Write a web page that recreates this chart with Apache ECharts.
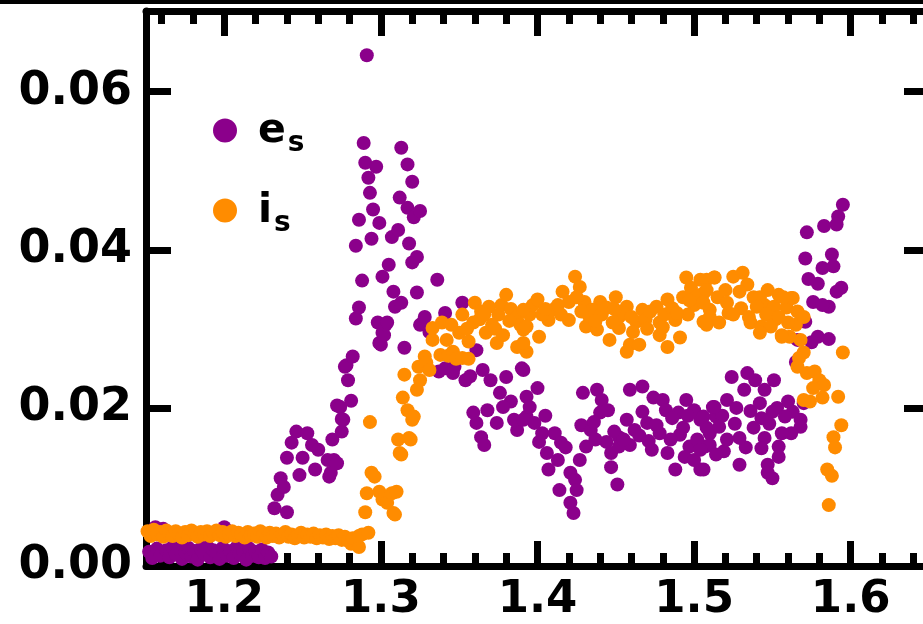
<!DOCTYPE html>
<html>
<head>
    <meta charset="utf-8">
    <title>ECharts</title>
    <script src="https://cdn.jsdelivr.net/npm/echarts@6/dist/echarts.min.js"></script>
</head>
<body style="margin:0;background:#fff;">
<div id="main" style="width: 923px;height:624px;"></div>
<script type="text/javascript">
    // tick positions
    var xMajor = [1.2, 1.3, 1.4, 1.5, 1.6];
    var xMinor = [1.16, 1.18, 1.22, 1.24, 1.26, 1.28, 1.32, 1.34, 1.36, 1.38, 1.42, 1.44, 1.46, 1.48,
                  1.52, 1.54, 1.56, 1.58, 1.62, 1.64];
    var yMajor = [0, 0.02, 0.04, 0.06];

    // e_s (purple)
    var esData = [
        [1.152,0.0018],[1.154,0.0010],[1.156,0.0049],[1.157,0.0022],[1.159,0.0013],[1.161,0.0047],[1.163,0.0020],
        [1.165,0.0011],[1.167,0.0024],[1.169,0.0015],[1.171,0.0021],[1.173,0.0009],[1.175,0.0017],[1.177,0.0023],
        [1.179,0.0012],[1.181,0.0019],[1.183,0.0008],[1.185,0.0022],[1.187,0.0015],[1.189,0.0025],[1.191,0.0011],
        [1.193,0.0020],[1.195,0.0016],[1.197,0.0009],[1.199,0.0023],[1.200,0.0049],[1.202,0.0013],[1.204,0.0019],
        [1.206,0.0010],[1.208,0.0024],[1.210,0.0015],[1.212,0.0020],[1.214,0.0008],[1.216,0.0022],[1.218,0.0013],
        [1.220,0.0018],[1.222,0.0011],[1.224,0.0021],[1.226,0.0010],[1.228,0.0017],[1.230,0.0012],
        [1.232,0.0073],[1.234,0.0090],[1.236,0.0111],[1.238,0.0100],[1.240,0.0068],[1.240,0.0137],[1.243,0.0156],
        [1.246,0.0170],[1.248,0.0115],[1.250,0.0137],[1.253,0.0168],[1.256,0.0153],[1.258,0.0122],[1.260,0.0147],
        [1.266,0.0134],[1.267,0.0113],[1.268,0.0118],[1.269,0.0160],[1.270,0.0134],[1.272,0.0130],[1.272,0.0203],
        [1.274,0.0201],[1.275,0.0186],[1.275,0.0170],[1.276,0.0185],[1.277,0.0252],[1.278,0.0254],[1.279,0.0235],
        [1.281,0.0209],[1.282,0.0265],[1.284,0.0313],[1.286,0.0327],[1.288,0.0361],[1.284,0.0405],[1.286,0.0438],
        [1.289,0.0535],[1.290,0.0510],[1.291,0.0646],[1.292,0.0491],[1.293,0.0472],[1.294,0.0414],[1.295,0.0451],
        [1.297,0.0505],[1.298,0.0308],[1.299,0.0434],[1.299,0.0282],[1.300,0.0280],[1.301,0.0366],[1.301,0.0295],
        [1.302,0.0292],[1.303,0.0305],[1.304,0.0308],[1.305,0.0381],[1.307,0.0416],[1.308,0.0347],[1.309,0.0328],
        [1.311,0.0425],[1.312,0.0466],[1.313,0.0529],[1.313,0.0333],[1.315,0.0276],[1.317,0.0508],[1.317,0.0453],
        [1.318,0.0408],[1.320,0.0486],[1.320,0.0384],[1.321,0.0441],[1.323,0.0391],[1.323,0.0346],[1.325,0.0449],
        [1.325,0.0305],[1.327,0.0308],[1.328,0.0315],[1.331,0.0296],[1.336,0.0362],[1.341,0.0320],[1.352,0.0333],
        [1.361,0.0273],[1.337,0.0246],[1.346,0.0244],[1.354,0.0235],[1.365,0.0248],[1.370,0.0235],[1.380,0.0239],
        [1.390,0.0250],[1.376,0.0219],[1.383,0.0208],[1.359,0.0194],[1.368,0.0197],[1.378,0.0201],[1.361,0.0181],
        [1.374,0.0181],[1.387,0.0172],[1.393,0.0189],[1.364,0.0163],[1.366,0.0153],[1.385,0.0185],
        [1.341,0.0250],[1.347,0.0252],[1.357,0.0240],
        [1.391,0.0248],[1.400,0.0225],[1.393,0.0214],[1.429,0.0219],[1.438,0.0223],[1.441,0.0210],[1.459,0.0223],
        [1.467,0.0227],[1.474,0.0213],[1.480,0.0210],[1.495,0.0210],[1.512,0.0201],[1.395,0.0201],[1.440,0.0194],
        [1.445,0.0197],[1.467,0.0195],[1.482,0.0197],[1.490,0.0194],[1.500,0.0197],[1.391,0.0185],[1.398,0.0181],
        [1.428,0.0178],[1.457,0.0185],[1.470,0.0181],[1.486,0.0187],[1.504,0.0185],[1.514,0.0189],[1.403,0.0168],
        [1.411,0.0168],[1.434,0.0172],[1.452,0.0163],[1.462,0.0172],[1.478,0.0168],[1.491,0.0166],[1.510,0.0168],
        [1.401,0.0157],[1.415,0.0156],[1.431,0.0151],[1.444,0.0157],[1.459,0.0153],[1.473,0.0147],[1.483,0.0143],
        [1.497,0.0151],[1.507,0.0151],[1.406,0.0143],[1.413,0.0134],[1.427,0.0134],[1.447,0.0143],[1.452,0.0151],
        [1.494,0.0138],[1.500,0.0134],[1.447,0.0125],[1.407,0.0122],[1.421,0.0118],[1.488,0.0122],[1.504,0.0122],
        [1.424,0.0109],[1.414,0.0096],[1.425,0.0096],[1.451,0.0103],[1.421,0.0080],[1.423,0.0067],
        [1.405,0.0190],[1.418,0.0150],[1.436,0.0182],[1.437,0.0160],[1.449,0.0170],[1.455,0.0160],[1.465,0.0165],
        [1.471,0.0158],[1.476,0.0178],[1.485,0.0160],[1.493,0.0175],[1.496,0.0190],[1.502,0.0160],[1.508,0.0175],
        [1.518,0.0190],[1.519,0.0145],[1.526,0.0180],[1.533,0.0150],[1.536,0.0196],[1.548,0.0180],[1.553,0.0200],
        [1.563,0.0195],
        [1.524,0.0239],[1.534,0.0244],[1.539,0.0235],[1.551,0.0235],[1.532,0.0223],[1.545,0.0223],[1.542,0.0206],
        [1.560,0.0208],[1.570,0.0206],[1.521,0.0210],[1.513,0.0201],[1.527,0.0200],[1.550,0.0195],[1.543,0.0187],
        [1.558,0.0189],[1.568,0.0185],[1.506,0.0189],[1.516,0.0176],[1.538,0.0175],[1.568,0.0176],[1.562,0.0168],
        [1.556,0.0168],[1.529,0.0162],[1.545,0.0162],[1.521,0.0160],[1.510,0.0153],[1.554,0.0151],[1.543,0.0149],
        [1.504,0.0147],[1.514,0.0141],[1.554,0.0138],[1.529,0.0128],[1.547,0.0128],[1.506,0.0122],[1.547,0.0118],
        [1.550,0.0111],
        [1.595,0.0457],[1.592,0.0442],[1.591,0.0432],[1.583,0.0430],[1.572,0.0422],[1.571,0.0389],[1.588,0.0394],
        [1.589,0.0379],[1.582,0.0377],[1.573,0.0363],[1.579,0.0357],[1.594,0.0352],[1.591,0.0347],[1.576,0.0334],
        [1.586,0.0328],[1.582,0.0330],[1.571,0.0309],[1.579,0.0290],[1.586,0.0287],[1.575,0.0283],[1.566,0.0286],
        [1.565,0.0258]
    ];

    // i_s (orange)
    var isData = [
        [1.151,0.0044],[1.153,0.0038],[1.155,0.0046],[1.157,0.0040],[1.159,0.0043],[1.161,0.0037],[1.163,0.0045],
        [1.165,0.0041],[1.167,0.0038],[1.169,0.0044],[1.171,0.0040],[1.173,0.0036],[1.175,0.0043],[1.177,0.0039],
        [1.179,0.0045],[1.181,0.0041],[1.183,0.0037],[1.185,0.0043],[1.187,0.0040],[1.189,0.0044],[1.191,0.0038],
        [1.193,0.0042],[1.195,0.0045],[1.197,0.0039],[1.199,0.0043],[1.201,0.0037],[1.203,0.0041],[1.205,0.0044],
        [1.207,0.0038],[1.209,0.0042],[1.211,0.0040],[1.213,0.0036],[1.215,0.0043],[1.217,0.0039],[1.219,0.0041],
        [1.221,0.0037],[1.223,0.0044],[1.225,0.0040],[1.227,0.0036],[1.229,0.0042],[1.231,0.0038],[1.233,0.0041],
        [1.235,0.0036],[1.237,0.0040],[1.239,0.0043],[1.241,0.0037],[1.243,0.0040],[1.245,0.0035],[1.247,0.0039],
        [1.249,0.0042],[1.251,0.0036],[1.253,0.0040],[1.255,0.0037],[1.257,0.0041],[1.259,0.0035],[1.261,0.0039],
        [1.263,0.0036],[1.265,0.0040],[1.267,0.0034],[1.269,0.0038],[1.271,0.0035],[1.273,0.0039],[1.275,0.0033],
        [1.277,0.0037],[1.279,0.0032],[1.281,0.0028],[1.282,0.0035],[1.286,0.0024],[1.286,0.0038],[1.288,0.0040],
        [1.292,0.0042],
        [1.290,0.0068],[1.291,0.0092],[1.293,0.0182],[1.294,0.0118],[1.296,0.0113],[1.299,0.0094],[1.301,0.0084],
        [1.304,0.0080],[1.307,0.0092],[1.308,0.0067],[1.309,0.0065],[1.310,0.0094],[1.311,0.0160],[1.312,0.0143],
        [1.313,0.0141],[1.314,0.0213],[1.315,0.0242],[1.317,0.0197],[1.318,0.0162],[1.319,0.0160],[1.320,0.0185],
        [1.321,0.0189],[1.323,0.0223],[1.324,0.0252],[1.325,0.0235],[1.328,0.0265],[1.329,0.0257],[1.331,0.0248],
        [1.333,0.0286],[1.333,0.0301],[1.338,0.0267],[1.339,0.0308],[1.342,0.0286],[1.343,0.0266],[1.346,0.0271],
        [1.348,0.0262],[1.350,0.0295],[1.352,0.0263],[1.352,0.0318],[1.356,0.0284],[1.356,0.0262],[1.359,0.0308],
        [1.360,0.0333],[1.363,0.0312],[1.364,0.0322],[1.367,0.0295],[1.369,0.0328],[1.371,0.0305],[1.374,0.0282],
        [1.375,0.0318],[1.377,0.0330],[1.378,0.0292],[1.380,0.0343],[1.383,0.0325],[1.387,0.0315],[1.387,0.0277],
        [1.391,0.0299],[1.393,0.0271],[1.395,0.0318],
        [1.345,0.0305],[1.355,0.0300],[1.366,0.0318],[1.373,0.0300],[1.382,0.0310],[1.389,0.0305],[1.397,0.0330],
        [1.424,0.0366],[1.416,0.0347],[1.427,0.0353],[1.400,0.0337],[1.420,0.0334],[1.430,0.0334],[1.450,0.0340],
        [1.440,0.0334],[1.483,0.0337],[1.391,0.0324],[1.410,0.0324],[1.435,0.0324],[1.457,0.0328],[1.467,0.0324],
        [1.476,0.0328],[1.495,0.0365],[1.504,0.0362],[1.513,0.0365],[1.493,0.0340],[1.506,0.0345],[1.500,0.0330],
        [1.510,0.0324],[1.496,0.0318],[1.407,0.0311],[1.420,0.0311],[1.431,0.0303],[1.441,0.0318],[1.452,0.0315],
        [1.463,0.0309],[1.478,0.0308],[1.488,0.0311],[1.506,0.0309],[1.393,0.0303],[1.401,0.0290],[1.452,0.0301],
        [1.478,0.0292],[1.446,0.0286],[1.459,0.0280],[1.465,0.0280],[1.483,0.0277],[1.491,0.0289],[1.457,0.0271],
        [1.438,0.0299],[1.391,0.0282],[1.403,0.0318],[1.413,0.0330],[1.425,0.0340],[1.433,0.0316],[1.444,0.0327],
        [1.448,0.0308],[1.455,0.0320],[1.461,0.0296],[1.469,0.0312],[1.472,0.0322],[1.481,0.0318],[1.486,0.0326],
        [1.498,0.0352],[1.502,0.0342],
        [1.405,0.0325],[1.415,0.0318],[1.428,0.0322],[1.437,0.0310],[1.449,0.0325],[1.460,0.0315],[1.470,0.0300],
        [1.480,0.0302],[1.489,0.0320],[1.497,0.0336],[1.515,0.0340],[1.522,0.0320],[1.530,0.0326],[1.538,0.0340],
        [1.545,0.0330],[1.552,0.0312],[1.565,0.0305],
        [1.508,0.0362],[1.513,0.0365],[1.525,0.0366],[1.531,0.0371],[1.534,0.0356],[1.529,0.0347],[1.520,0.0349],
        [1.508,0.0349],[1.547,0.0349],[1.554,0.0343],[1.562,0.0339],[1.542,0.0340],[1.506,0.0333],[1.521,0.0333],
        [1.540,0.0328],[1.551,0.0328],[1.559,0.0327],[1.566,0.0322],[1.510,0.0315],[1.525,0.0318],[1.535,0.0315],
        [1.546,0.0318],[1.554,0.0315],[1.570,0.0315],[1.516,0.0308],[1.536,0.0308],[1.543,0.0303],[1.549,0.0303],
        [1.560,0.0308],[1.542,0.0295],[1.556,0.0292],[1.508,0.0305],[1.563,0.0339],[1.557,0.0340],
        [1.561,0.0290],[1.556,0.0290],[1.568,0.0286],[1.570,0.0270],[1.567,0.0263],[1.566,0.0252],[1.572,0.0244],
        [1.577,0.0246],[1.580,0.0235],[1.583,0.0229],[1.576,0.0225],[1.582,0.0213],[1.574,0.0208],[1.570,0.0210],
        [1.595,0.0270],[1.592,0.0214],[1.594,0.0178],[1.589,0.0163],[1.590,0.0150],[1.585,0.0122],[1.588,0.0114],
        [1.586,0.0077]
    ];

    var font = 'DejaVu Sans';
    var lineW = 7;

    var myChart = echarts.init(document.getElementById('main'));

    function xAxisDef(pos, values, len, withLine, withLabel) {
        return {
            type: 'value', position: pos, min: 1.15, max: 1.65,
            axisLine: { show: withLine, onZero: false, lineStyle: { color: '#000', width: lineW } },
            axisTick: { show: true, inside: true, length: len, customValues: values,
                        lineStyle: { color: '#000', width: lineW } },
            axisLabel: { show: withLabel, customValues: xMajor, margin: 12,
                         formatter: function (v) { return v.toFixed(1); },
                         color: '#000', fontFamily: font, fontWeight: 'bold', fontSize: 45 },
            splitLine: { show: false }
        };
    }

    function yAxisDef(pos, withLabel) {
        return {
            type: 'value', position: pos, min: 0, max: 0.0702,
            axisLine: { show: true, onZero: false, lineStyle: { color: '#000', width: lineW } },
            axisTick: { show: true, inside: true, length: 25, customValues: yMajor,
                        lineStyle: { color: '#000', width: lineW } },
            axisLabel: { show: withLabel, customValues: yMajor, margin: 14,
                         formatter: function (v) { return v.toFixed(2); },
                         color: '#000', fontFamily: font, fontWeight: 'bold', fontSize: 46 },
            splitLine: { show: false }
        };
    }

    var option = {
        animation: false,
        backgroundColor: '#fff',
        grid: { left: 146, top: 11, width: 783, height: 555, outerBoundsMode: 'none', containLabel: false },
        xAxis: [
            xAxisDef('bottom', xMajor, 25, true, true),
            xAxisDef('bottom', xMinor, 13, false, false),
            xAxisDef('top', xMajor, 25, true, false),
            xAxisDef('top', xMinor, 13, false, false)
        ],
        yAxis: [
            yAxisDef('left', true),
            yAxisDef('right', false)
        ],
        legend: {
            left: 213, top: 111, padding: 0, orient: 'vertical', icon: 'circle',
            itemWidth: 24, itemHeight: 24, itemGap: 33,
            data: ['e_s', 'i_s'],
            formatter: function (name) {
                var p = name.split('_');
                return '{m|' + p[0] + '}{s|' + p[1] + '}';
            },
            textStyle: {
                rich: {
                    m: { fontFamily: font, fontWeight: 'bold', fontSize: 41, color: '#000',
                         verticalAlign: 'top', padding: [8, 0, 0, 16] },
                    s: { fontFamily: font, fontWeight: 'bold', fontSize: 28, color: '#000',
                         verticalAlign: 'top', padding: [27, 0, 0, 2] }
                }
            }
        },
        graphic: [
            { type: 'rect', left: 0, top: 0, shape: { width: 923, height: 4 }, style: { fill: '#000' } }
        ],
        series: [
            { name: 'e_s', type: 'scatter', data: esData, symbolSize: 14,
              itemStyle: { color: '#8b008b', opacity: 1 } },
            { name: 'i_s', type: 'scatter', data: isData, symbolSize: 14,
              itemStyle: { color: '#ff8c00', opacity: 1 } }
        ]
    };

    myChart.setOption(option);
</script>
</body>
</html>
